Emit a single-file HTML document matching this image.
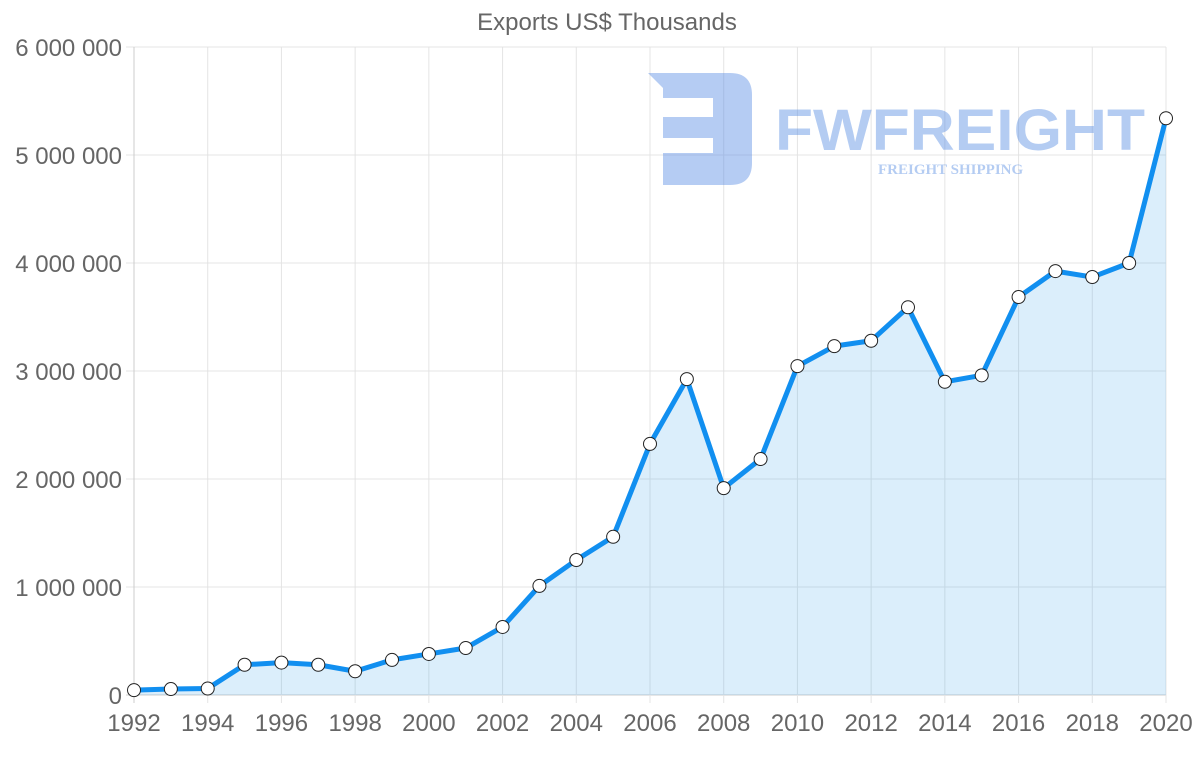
<!DOCTYPE html>
<html><head><meta charset="utf-8"><style>
html,body{margin:0;padding:0;background:#fff;}
svg{display:block;font-family:"Liberation Sans",sans-serif;}
</style></head><body>
<svg id="chart" width="1200" height="763">
<text x="607" y="30" text-anchor="middle" font-size="24" fill="#666">Exports US$ Thousands</text>
<g id="grid"></g>
<g id="area"></g>
<g id="wm" opacity="0.45">
<path d="M648,73 H730 Q752,73 752,95 V163 Q752,185 730,185 H663 V153 H713 V138 H663 V117 H713 V98 H663 V88 Z" fill="#5b8fe4"/>
<text x="775" y="150" font-size="58" font-weight="bold" fill="#5b8fe4" textLength="370" lengthAdjust="spacingAndGlyphs">FWFREIGHT</text>
<text x="878" y="174" font-size="15" font-weight="bold" font-family="Liberation Serif,serif" fill="#5b8fe4">FREIGHT SHIPPING</text>
</g>
<g id="line"></g>
<g id="axes"></g>
</svg>
<script>
const years=[1992,1993,1994,1995,1996,1997,1998,1999,2000,2001,2002,2003,2004,2005,2006,2007,2008,2009,2010,2011,2012,2013,2014,2015,2016,2017,2018,2019,2020];
const exportsK=[45000,55000,60000,280000,300000,280000,220000,325000,380000,435000,630000,1010000,1250000,1465000,2325000,2925000,1915000,2185000,3045000,3230000,3280000,3590000,2900000,2960000,3685000,3925000,3870000,4000000,5340000];
const yTicks=[0,1000000,2000000,3000000,4000000,5000000,6000000];
const yTickLabels=["0","1 000 000","2 000 000","3 000 000","4 000 000","5 000 000","6 000 000"];
const xTickYears=[1992,1994,1996,1998,2000,2002,2004,2006,2008,2010,2012,2014,2016,2018,2020];

const X0=134,X1=1166,Y0=695,Y1=47;
const xs=y=>X0+(y-1992)/(2020-1992)*(X1-X0);
const ys=v=>Y0-v/6000000*(Y0-Y1);
const NS="http://www.w3.org/2000/svg";
function mk(t,a,p){const e=document.createElementNS(NS,t);for(const k in a)e.setAttribute(k,a[k]);p.appendChild(e);return e;}
const grid=document.getElementById('grid'),axes=document.getElementById('axes'),area=document.getElementById('area'),line=document.getElementById('line');
yTicks.forEach((v,i)=>{
 const l=mk('line',{x1:X0-8,x2:X1,y1:ys(v),y2:ys(v),stroke:i==0?'#ccc':'#e4e4e4','stroke-width':1},grid);
 
 
 const t=mk('text',{x:122,y:ys(v)+9,'text-anchor':'end','font-size':24,fill:'#666'},axes);
 t.textContent=yTickLabels[i];
 
 
});
xTickYears.forEach((yr,i)=>{
 const l=mk('line',{x1:xs(yr),x2:xs(yr),y1:Y1,y2:Y0+8,stroke:i==0?'#ccc':'#e4e4e4','stroke-width':1},grid);
 
 
 const t=mk('text',{x:xs(yr),y:731,'text-anchor':'middle','font-size':24,fill:'#666'},axes);
 t.textContent=yr;
 
 
});
let d=years.map((y,i)=>(i?'L':'M')+xs(y)+','+ys(exportsK[i])).join(' ');
const a=mk('path',{d:d+` L${xs(2020)},${Y0} L${xs(1992)},${Y0} Z`,fill:'rgba(54,162,235,0.18)'},area);


const p=mk('path',{d:d,fill:'none',stroke:'#118ff0','stroke-width':5,'stroke-linejoin':'round'},line);


years.forEach((y,i)=>{
 const c=mk('circle',{cx:xs(y),cy:ys(exportsK[i]),r:6.5,fill:'#fff',stroke:'#222','stroke-width':1},line);
 
 
});
</script>
</body></html>
